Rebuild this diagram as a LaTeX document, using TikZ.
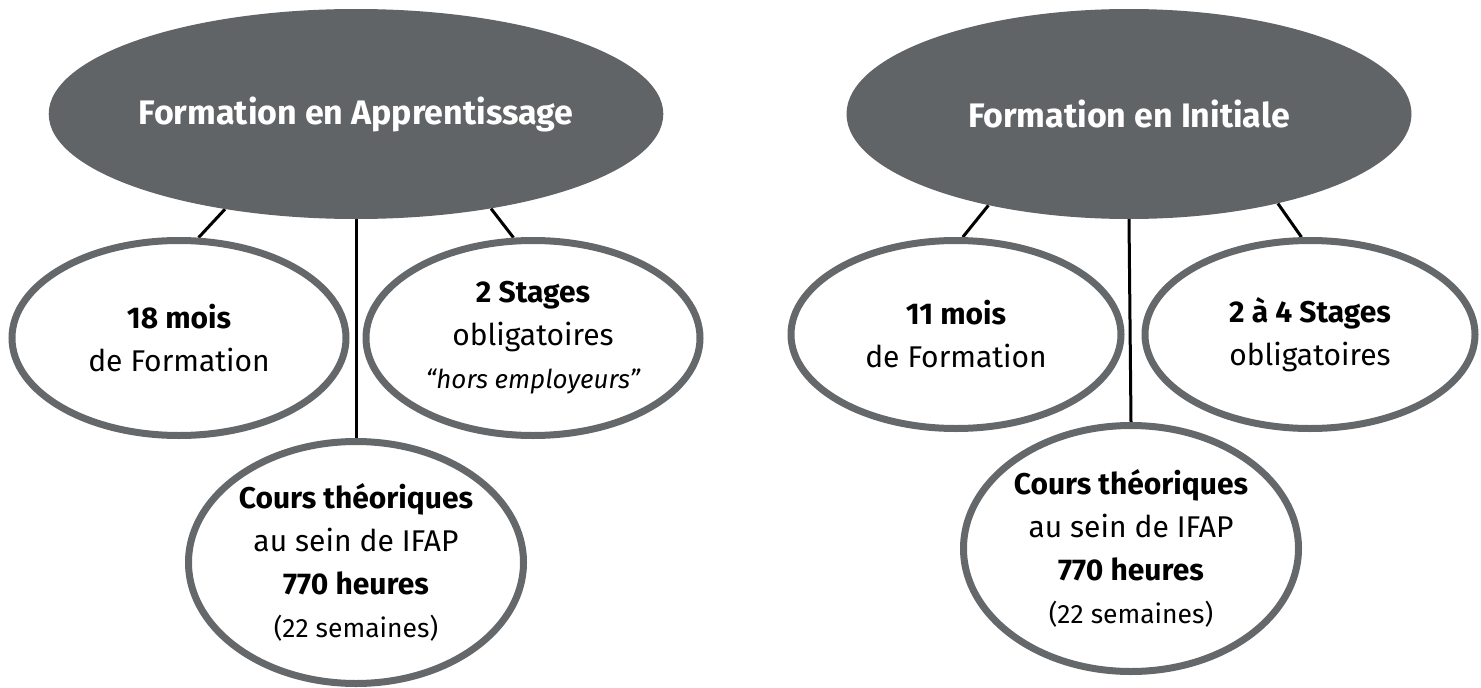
\documentclass[tikz,border=0pt]{standalone}
\usepackage{fontspec}
\setmainfont{Fira Sans}
\usetikzlibrary{shapes.geometric,backgrounds}
\definecolor{topgray}{HTML}{616467}
\definecolor{ringgray}{HTML}{65686A}
\tikzset{
  topnode/.style={ellipse, fill=topgray, inner sep=0pt, minimum width=565pt, minimum height=210pt,
    text=white, font=\fontsize{34}{40}\selectfont\bfseries},
  subnode/.style={ellipse, draw=ringgray, line width=7pt, fill=white, inner sep=0pt, align=center,
    font=\fontsize{30}{43}\selectfont},
  link/.style={line width=3pt, black},
}
\newcommand{\smalltxt}[1]{{\fontsize{26.5}{43}\selectfont #1}}
\newcommand{\italtxt}[1]{{\fontsize{26}{43}\selectfont\itshape #1}}
\begin{document}
\begin{tikzpicture}[x=1pt,y=-1pt]
\useasboundingbox (0,0) rectangle (1481,688);
% left group
\node[topnode] (A) at (356,114) {Formation en Apprentissage};
\node[subnode, minimum width=334pt, minimum height=195pt] (A1) at (179,338)
  {\textbf{18 mois}\\de Formation};
\node[subnode, minimum width=334pt, minimum height=195pt] (A2) at (533,338)
  {\textbf{2 Stages}\\obligatoires\\\italtxt{“hors employeurs”}};
\node[subnode, minimum width=335pt, minimum height=242pt] (A3) at (356,562.5)
  {\textbf{Cours théoriques}\\au sein de IFAP\\\textbf{770 heures}\\\smalltxt{(22 semaines)}};
% right group
\node[topnode] (B) at (1129,114) {Formation en Initiale};
\node[subnode, minimum width=330pt, minimum height=188pt] (B1) at (956,334.5)
  {\textbf{11 mois}\\de Formation};
\node[subnode, minimum width=330pt, minimum height=188pt] (B2) at (1310,334.5)
  {\textbf{2 à 4 Stages}\\obligatoires};
\node[subnode, minimum width=335pt, minimum height=246pt] (B3) at (1131,548.5)
  {\textbf{Cours théoriques}\\au sein de IFAP\\\textbf{770 heures}\\\smalltxt{(22 semaines)}};
\begin{scope}[on background layer]
  \draw[link] (A.216) -- (A1.79);
  \draw[link] (A.south) -- (A3.north);
  \draw[link] (A.325) -- (A2.101);
  \draw[link] (B.213) -- (B1.86);
  \draw[link] (B.south) -- (B3.north);
  \draw[link] (B.329) -- (B2.95);
\end{scope}
\end{tikzpicture}
\end{document}
